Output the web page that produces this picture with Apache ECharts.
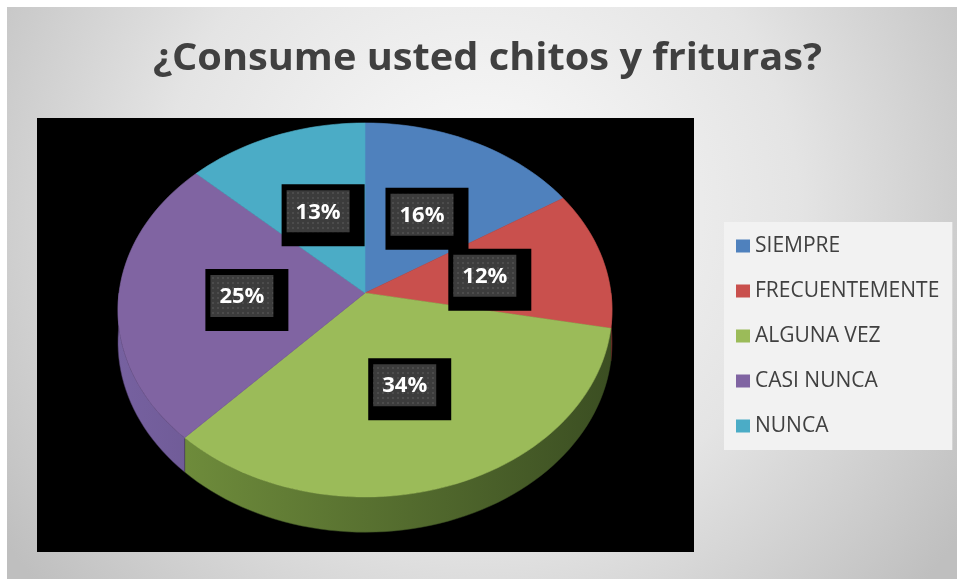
<!DOCTYPE html>
<html>
<head>
<meta charset="utf-8">
<script src="https://cdn.jsdelivr.net/npm/echarts@6/dist/echarts.min.js"></script>
<style>
  html, body { margin: 0; padding: 0; background: #ffffff; }
  #chart { width: 957px; height: 579px; }
</style>
</head>
<body>
<div id="chart"></div>
<script>
// Survey answers and their shares (%)
const categories = ['SIEMPRE', 'FRECUENTEMENTE', 'ALGUNA VEZ', 'CASI NUNCA', 'NUNCA'];
const percentages = [16, 12, 34, 25, 13];
const titleText = '¿Consume usted chitos y frituras?';

// Face colours and the darker tones used on the rim of the disc
const topColors = ['#4f81bd', '#c9504d', '#9bbb59', '#8064a2', '#4bacc6'];
const rimLight = ['#34557e', '#a34341', '#76953f', '#7661a0', '#2f7588'];
const rimDark = ['#243b57', '#6e2a28', '#3b4e22', '#4d3b66', '#1f4f5c'];

// Tilted disc drawn with a light perspective
const PIE = { cx: 365, cy: 293, rx: 246, ry: 185.5, k: 0.0909, depth: 32 };

function project(f, deg, drop) {
  const t = deg * Math.PI / 180;
  const u = f * Math.sin(t);
  const v = f * Math.cos(t);
  const s = 1 / (1 + PIE.k * v);
  return [PIE.cx + PIE.rx * u * s, PIE.cy - PIE.ry * v * s + (drop ? PIE.depth * s : 0)];
}

const total = percentages.reduce((a, b) => a + b, 0);
const cumulative = percentages.map((_, i) => percentages.slice(0, i).reduce((a, b) => a + b, 0));

// dotted fill for the value boxes
const dotTile = document.createElement('canvas');
dotTile.width = 5; dotTile.height = 5;
(function () {
  const g = dotTile.getContext('2d');
  g.fillStyle = '#3c3c3c'; g.fillRect(0, 0, 5, 5);
  g.fillStyle = '#4c4c4c'; g.fillRect(2, 2, 2, 2);
})();

function arcPoints(f, a0, a1, drop) {
  const pts = [];
  const n = Math.max(2, Math.ceil((a1 - a0) / 2));
  for (let j = 0; j <= n; j++) pts.push(project(f, a0 + (a1 - a0) * j / n, drop));
  return pts;
}

function makeRender(i) {
  return function (params, api) {
    const value = api.value(0);
    const a0 = 360 * cumulative[i] / total;
    const a1 = a0 + 360 * value / total;
    const children = [];

    // visible rim (front half of the disc)
    const w0 = Math.max(a0, 90), w1 = Math.min(a1, 270);
    if (w1 > w0) {
      const upper = arcPoints(1, w0, w1, false);
      const lower = arcPoints(1, w0, w1, true).reverse();
      children.push({
        type: 'polygon',
        z2: 1,
        shape: { points: upper.concat(lower) },
        style: {
          fill: new echarts.graphic.LinearGradient(118, 0, 612, 0, [
            { offset: 0, color: rimLight[i] },
            { offset: 1, color: rimDark[i] }
          ], true),
          stroke: rimDark[i],
          lineWidth: 0.5
        }
      });
    }

    // top face of the slice
    const face = [project(0, 0, false)].concat(arcPoints(1, a0, a1, false));
    children.push({
      type: 'polygon',
      z2: 10,
      shape: { points: face },
      style: { fill: topColors[i], stroke: topColors[i], lineWidth: 0.6 }
    });

    // value box
    const c = project(0.5, (a0 + a1) / 2, false);
    children.push({
      type: 'rect', z2: 20,
      shape: { x: c[0] - 36.5, y: c[1] - 27, width: 83, height: 62 },
      style: { fill: '#000000' }
    });
    children.push({
      type: 'rect', z2: 21,
      shape: { x: c[0] - 31.5, y: c[1] - 21, width: 63, height: 42 },
      style: { fill: { image: dotTile, repeat: 'repeat' } }
    });
    children.push({
      type: 'text', z2: 22,
      x: c[0], y: c[1] + 1,
      style: {
        text: value + '%',
        fill: '#ffffff',
        font: 'bold 22px "Open Sans"',
        align: 'center', verticalAlign: 'middle',
        textAlign: 'center', textVerticalAlign: 'middle'
      }
    });
    return { type: 'group', children: children };
  };
}

// fit the title to its line width
const measure = document.createElement('canvas').getContext('2d');
measure.font = 'bold 37px "Open Sans"';
const titleScale = 669 / measure.measureText(titleText).width;

const chart = echarts.init(document.getElementById('chart'), null, { renderer: 'canvas' });

chart.setOption({
  animation: false,
  graphic: [
    {
      type: 'rect', z: -10,
      shape: { x: 7, y: 7, width: 950, height: 572 },
      style: {
        fill: new echarts.graphic.RadialGradient(480, 210, 580, [
          { offset: 0, color: '#fbfbfb' },
          { offset: 0.55, color: '#e4e4e4' },
          { offset: 1, color: '#bfbfbf' }
        ], true)
      }
    },
    {
      type: 'rect', z: -5,
      shape: { x: 37, y: 118, width: 657, height: 434 },
      style: { fill: '#000000' }
    },
    {
      type: 'text', z: 5,
      x: 487.5, y: 59.5,
      scaleX: titleScale,
      style: {
        text: titleText,
        fill: '#404040',
        font: 'bold 37px "Open Sans"',
        align: 'center', verticalAlign: 'middle',
        textAlign: 'center', textVerticalAlign: 'middle'
      }
    }
  ],
  legend: {
    orient: 'vertical',
    left: 724, top: 222,
    padding: [12, 13, 12, 12],
    itemWidth: 14, itemHeight: 13, itemGap: 21,
    icon: 'rect',
    selectedMode: false,
    backgroundColor: '#f2f2f2',
    textStyle: { color: '#404040', fontFamily: 'Open Sans', fontSize: 21, lineHeight: 24 },
    data: categories
  },
  series: categories.map((name, i) => ({
    type: 'custom',
    name: name,
    coordinateSystem: 'none',
    itemStyle: { color: topColors[i] },
    renderItem: makeRender(i),
    data: [[percentages[i]]]
  }))
});
</script>
</body>
</html>
